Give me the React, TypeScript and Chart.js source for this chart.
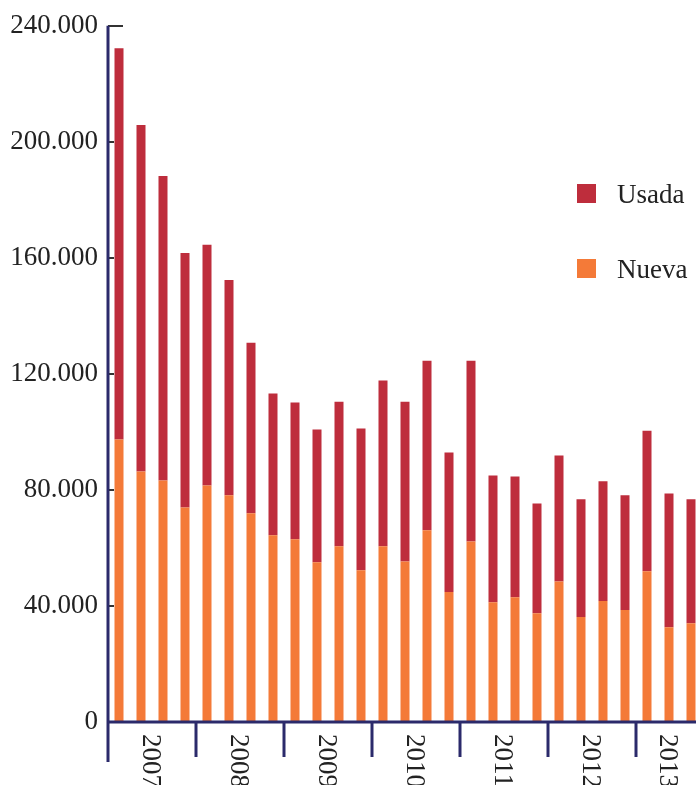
import { useEffect, useRef } from "react";
import { Chart, registerables } from "chart.js";

Chart.register(...registerables);

const years = ["2007", "2008", "2009", "2010", "2011", "2012", "2013"];
const barsPerYear = [4, 4, 4, 4, 4, 4, 3];
const categories = [
  "2007-T1", "2007-T2", "2007-T3", "2007-T4",
  "2008-T1", "2008-T2", "2008-T3", "2008-T4",
  "2009-T1", "2009-T2", "2009-T3", "2009-T4",
  "2010-T1", "2010-T2", "2010-T3", "2010-T4",
  "2011-T1", "2011-T2", "2011-T3", "2011-T4",
  "2012-T1", "2012-T2", "2012-T3", "2012-T4",
  "2013-T1", "2013-T2", "2013-T3",
];
const nueva = [
  97400, 86400, 83300, 74000,
  81600, 78200, 72000, 64400,
  63000, 55100, 60600, 52300,
  60600, 55400, 66100, 44800,
  62300, 41300, 43000, 37500,
  48500, 36200, 41700, 38600,
  52000, 32700, 34100,
];
const usada = [
  135000, 119500, 105000, 87800,
  83000, 74300, 58800, 48900,
  47200, 45800, 49900, 48900,
  57200, 55100, 58500, 48200,
  62300, 43700, 41700, 37900,
  43400, 40600, 41300, 39600,
  48500, 46100, 42700,
];
const yTicks = [0, 40000, 80000, 120000, 160000, 200000, 240000];

const RED = "#be2d3c";
const ORANGE = "#f47a38";
const NAVY = "#2b2a6b";
const TEXT = "#222222";
const FONT = "Liberation Serif";

const axesPlugin = {
  id: "customAxes",
  afterDatasetsDraw(chart: any) {
    const { ctx, chartArea, scales } = chart;
    const x = scales.x;
    const y = scales.y;
    const left = chartArea.left;
    const bottom = chartArea.bottom;
    ctx.save();
    // y ticks (inward)
    ctx.strokeStyle = "#333333";
    ctx.lineWidth = 2;
    yTicks.forEach((v) => {
      const py = Math.round(y.getPixelForValue(v));
      if (v === 0) return;
      const len = v === 240000 ? 15 : 6;
      ctx.beginPath();
      ctx.moveTo(left, py);
      ctx.lineTo(left + len, py);
      ctx.stroke();
    });
    // axes
    ctx.strokeStyle = NAVY;
    ctx.lineWidth = 3;
    ctx.beginPath();
    ctx.moveTo(left, y.getPixelForValue(240000) - 0.5);
    ctx.lineTo(left, bottom + 40);
    ctx.stroke();
    ctx.beginPath();
    ctx.moveTo(left, bottom);
    ctx.lineTo(chartArea.right + 20, bottom);
    ctx.stroke();
    // separators and year labels
    let idx = 0;
    ctx.fillStyle = TEXT;
    ctx.font = `27px "${FONT}"`;
    years.forEach((yr, k) => {
      const n = barsPerYear[k];
      const first = idx;
      const last = idx + n - 1;
      if (k > 0) {
        const sx = (x.getPixelForValue(first - 1) + x.getPixelForValue(first)) / 2;
        ctx.beginPath();
        ctx.moveTo(sx, bottom);
        ctx.lineTo(sx, bottom + 35);
        ctx.stroke();
      }
      const cx = (x.getPixelForValue(first) + x.getPixelForValue(last)) / 2 - 2;
      ctx.save();
      ctx.translate(cx, bottom + 12);
      ctx.rotate(Math.PI / 2);
      ctx.textAlign = "left";
      ctx.textBaseline = "middle";
      ctx.fillText(yr, 0, 0);
      ctx.restore();
      idx += n;
    });
    // legend
    const items = [
      { label: "Usada", color: RED, y: 184 },
      { label: "Nueva", color: ORANGE, y: 259 },
    ];
    ctx.font = `27px "${FONT}"`;
    ctx.textAlign = "left";
    ctx.textBaseline = "alphabetic";
    items.forEach((it) => {
      ctx.fillStyle = it.color;
      ctx.fillRect(577, it.y, 19, 19);
      ctx.fillStyle = TEXT;
      ctx.fillText(it.label, 617, it.y + 19);
    });
    ctx.restore();
  },
};

export default function App() {
  const ref = useRef<HTMLCanvasElement | null>(null);
  useEffect(() => {
    if (!ref.current) return;
    const chart = new Chart(ref.current, {
      type: "bar",
      data: {
        labels: categories,
        datasets: [
          { label: "Nueva", data: nueva, backgroundColor: ORANGE, borderWidth: 0 },
          { label: "Usada", data: usada, backgroundColor: RED, borderWidth: 0 },
        ],
      },
      options: {
        responsive: false,
        animation: false,
        layout: { padding: { top: 25, right: 18, left: 0, bottom: 0 } },
        plugins: { legend: { display: false }, tooltip: { enabled: false }, title: { display: false } },
        datasets: { bar: { categoryPercentage: 1, barPercentage: 9 / 22 } },
        scales: {
          x: {
            stacked: true,
            grid: { display: false },
            border: { display: false },
            ticks: { display: false },
            afterFit: (s: any) => { s.height = 63; },
          },
          y: {
            stacked: true,
            min: 0,
            max: 240000,
            grid: { display: false, drawTicks: false },
            border: { display: false },
            afterBuildTicks: (s: any) => { s.ticks = yTicks.map((v) => ({ value: v })); },
            ticks: {
              padding: 10,
              color: TEXT,
              font: { family: FONT, size: 27 },
              callback: (v: any) => (v === 0 ? "0" : `${Number(v) / 1000}.000`),
            },
            afterFit: (s: any) => { s.width = 108; },
          },
        },
      },
      plugins: [axesPlugin],
    });
    return () => chart.destroy();
  }, []);
  return (
    <div style={{ position: "absolute", left: 0, top: 0, width: 696, height: 785, overflow: "hidden", background: "#fff" }}>
      <canvas ref={ref} width={720} height={785} style={{ display: "block" }} />
    </div>
  );
}
